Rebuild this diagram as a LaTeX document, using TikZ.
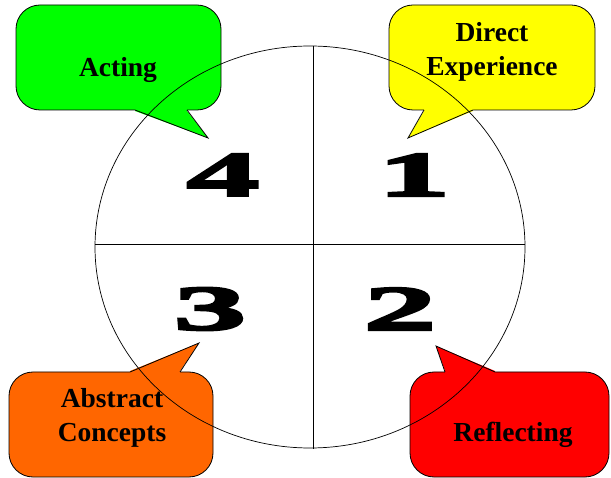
\documentclass[tikz,border=0pt]{standalone}
\usepackage{fontspec}
\setmainfont{Liberation Serif}
\newfontfamily\digitfont[UprightFont=* Bold, FakeStretch=2.35, FakeBold=4]{Liberation Serif}
\begin{document}
\begin{tikzpicture}[x=1pt,y=-1pt,
  boxline/.style={draw=black, line width=0.8pt},
  label/.style={font=\fontsize{27.5}{34}\selectfont\bfseries, align=center, inner sep=0pt},
  digit/.style={font=\fontsize{63}{63}\selectfont\digitfont, inner sep=0pt}]
\useasboundingbox (0,0) rectangle (611,478);
\definecolor{cgreen}{RGB}{0,255,0}
\definecolor{cyellow}{RGB}{255,255,0}
\definecolor{corange}{RGB}{255,102,0}
\definecolor{cred}{RGB}{255,0,0}
% green callout
\filldraw[boxline, fill=cgreen, rounded corners=24pt] (16,5) rectangle (221,110);
\fill[cgreen] (135,108) -- (187,108) -- (187,111) -- (208,138) -- (135,111) -- cycle;
\coordinate (gtip) at (208,138);
\draw[line width=0.8pt] (135,110) -- (gtip) -- (187,110);
% yellow callout
\filldraw[boxline, fill=cyellow, rounded corners=24pt] (389,5) rectangle (595,110);
\fill[cyellow] (424,108) -- (473,108) -- (473,111) -- (408,138) -- (424,111) -- cycle;
\coordinate (ytip) at (408,138);
\draw[line width=0.8pt] (424,110) -- (ytip) -- (473,110);
% orange callout
\filldraw[boxline, fill=corange, rounded corners=24pt] (9,372) rectangle (213,477);
\fill[corange] (130,374) -- (180,374) -- (180,371) -- (199,343) -- (130,371) -- cycle;
\coordinate (otip) at (199,343);
\draw[line width=0.8pt] (130,372) -- (otip) -- (180,372);
% red callout
\filldraw[boxline, fill=cred, rounded corners=24pt] (410,372) rectangle (609,477);
\fill[cred] (445,374) -- (495,374) -- (495,371) -- (436,346) -- (445,371) -- cycle;
\coordinate (rtip) at (436,346);
\draw[line width=0.8pt] (445,372) -- (rtip) -- (495,372);
% circle and cross
\draw[line width=0.7pt] (310,247) ellipse [x radius=215, y radius=201];
\coordinate (vt) at (313,46);
\coordinate (vb) at (313,449);
\coordinate (hl) at (95,244);
\coordinate (hr) at (525,244);
\draw[line width=0.7pt] (vt) -- (vb);
\draw[line width=0.7pt] (hl) -- (hr);
% labels
\node[label] (acting) at (118,70) {Acting};
\node[label] (direct) at (492,52) {Direct\\Experience};
\node[label] (abstract) at (112,418) {Abstract\\Concepts};
\node[label] (reflect) at (513,435) {Reflecting};
% digits
\node[digit] (d4) at (223,175) {4};
\node[digit] (d1) at (414,175) {1};
\node[digit] (d3) at (210,309) {3};
\node[digit] (d2) at (400,309) {2};
\end{tikzpicture}
\end{document}
